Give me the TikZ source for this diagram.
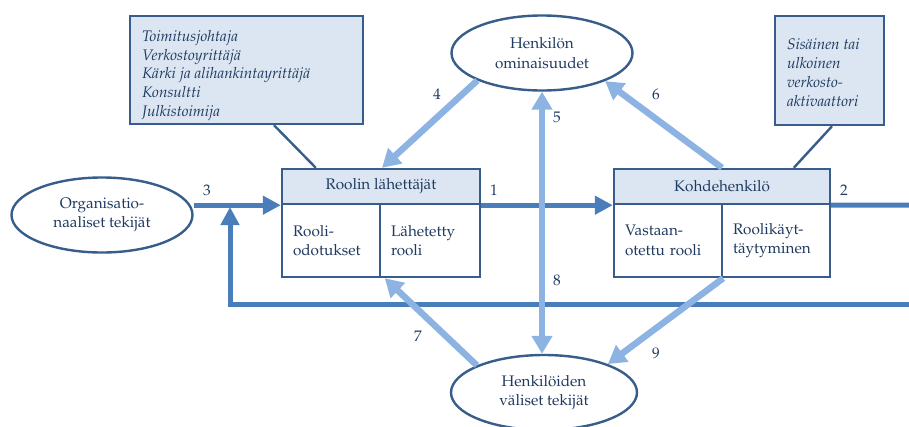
\documentclass[tikz,border=0pt]{standalone}
\usepackage[T1]{fontenc}
\usepackage{mathpazo}
\usetikzlibrary{shapes.geometric,arrows.meta,calc}

\definecolor{navy}{HTML}{385D8A}
\definecolor{boxfill}{HTML}{DCE6F2}
\definecolor{inktext}{HTML}{1F3A60}
\definecolor{flowdark}{HTML}{4A7EBB}
\definecolor{flowlight}{HTML}{8DB3E2}

\newcommand{\notetext}[3]{\parbox{#1}{\raggedright\vspace*{#2}#3}}

\tikzset{
  every node/.style={text=inktext, font=\fontsize{15.3}{19.5}\selectfont},
  factor/.style={ellipse, draw=navy, line width=2.4pt, fill=white,
    minimum height=75pt, inner sep=0pt, align=center},
  header/.style={rectangle, draw=navy, line width=2.4pt, fill=boxfill,
    minimum height=35pt, inner sep=0pt},
  cell/.style={rectangle, draw=navy, line width=2.4pt, fill=white,
    minimum height=73pt, inner ysep=0pt, inner xsep=11pt, align=left},
  note/.style={rectangle, draw=navy, line width=2.4pt, fill=boxfill,
    inner ysep=0pt, inner xsep=12pt,
    font=\fontsize{15.3}{18.75}\selectfont\itshape},
  link/.style={draw=navy, line width=2.4pt},
  mainflow/.style={draw=flowdark, line width=5pt,
    -{Triangle[length=18pt,width=18pt]}},
  sideflow/.style={draw=flowlight, line width=6.5pt,
    -{Triangle[length=18pt,width=20pt]}},
  bothflow/.style={draw=flowlight, line width=6.5pt,
    {Triangle[length=18pt,width=20pt]}-{Triangle[length=18pt,width=20pt]}},
}

\begin{document}
\begin{tikzpicture}[x=1pt,y=-1pt]
\useasboundingbox (0,0) rectangle (909,426);

% factor ellipses
\node[factor, minimum width=181pt] (org) at (102,215) {Organisatio-\\naaliset tekijät};
\node[factor, minimum width=181pt] (hom) at (542,53) {Henkilön\\ominaisuudet};
\node[factor, minimum width=186pt] (hvt) at (544,392.5) {Henkilöiden\\väliset tekijät};

% role senders
\node[header, minimum width=198pt] (rlh) at (381,186.5) {Roolin lähettäjät};
\node[cell, minimum width=98pt, text width=76pt] (rlc1) at (331,240.5) {Rooli-\\odotukset};
\node[cell, minimum width=100pt, text width=78pt] (rlc2) at (430,240.5) {Lähetetty\\rooli};

% focal person
\node[header, minimum width=216pt] (kh) at (722,186.5) {Kohdehenkilö};
\node[cell, minimum width=108pt, text width=86pt] (kc1) at (668,240.5) {Vastaan-\\otettu rooli};
\node[cell, minimum width=108pt, text width=86pt] (kc2) at (776,240.5) {Roolikäyt-\\täytyminen};

% callout notes
\node[note, minimum width=233pt, minimum height=108pt] (note1) at (246.5,70)
  {\notetext{209pt}{11pt}{Toimitusjohtaja\\Verkostoyrittäjä\\Kärki ja alihankintayrittäjä\\Konsultti\\Julkistoimija}};
\node[note, minimum width=109pt, minimum height=109pt] (note2) at (829.5,70.5)
  {\notetext{85pt}{4pt}{Sisäinen tai\\ulkoinen\\verkosto-\\aktivaattori}};

\draw[link] ($(note1.south)+(27.5,0)$) -- ($(rlh.north west)+(35,0)$);
\draw[link] ($(note2.south)+(2.5,0)$) -- ($(kh.north west)+(181,0)$);

% main flow and feedback loop
\coordinate (outR) at (909,205);
\coordinate (backR) at (909,304);
\coordinate (backL) at (230,304);
\coordinate (backTip) at (230,207);
\draw[mainflow] (org.east |- rlh.south west) -- (rlh.south west);
\draw[mainflow] (rlh.south east) -- (kh.south west);
\draw[draw=flowdark, line width=5pt] (kh.south east) -- (outR);
\draw[mainflow] (backR) -- (backL) -- (backTip);

% influences
\draw[sideflow] (hom.203) -- ($(rlh.north)+(1,0)$);
\draw[sideflow] (kh.north) -- (hom.336);
\draw[bothflow] (hom.south) -- (hom.south |- hvt.north);
\draw[sideflow] (hvt.158) -- ($(rlc2.south west)+(6,0)$);
\draw[sideflow] (kc1.south east) -- (hvt.24);

% flow numbers
\node (n1) at (494,190) {1};
\node (n2) at (844,190) {2};
\node (n3) at (207,190) {3};
\node (n4) at (437,94) {4};
\node (n5) at (557,117) {5};
\node (n6) at (656,94) {6};
\node (n7) at (418,336) {7};
\node (n8) at (557,280) {8};
\node (n9) at (656,353) {9};
\end{tikzpicture}
\end{document}
